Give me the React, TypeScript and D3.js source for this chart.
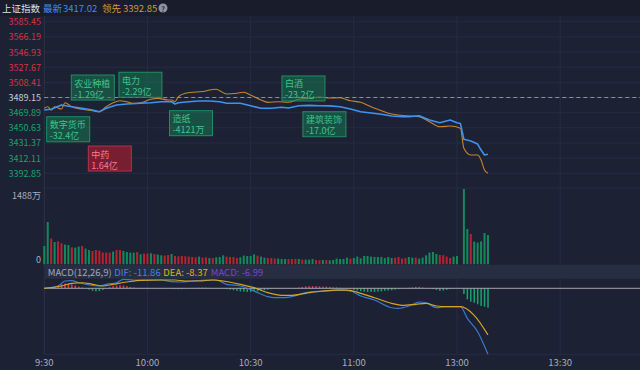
import * as d3 from 'd3';
import React from 'react';

// minute index: 0 = 9:30, 120 = 11:30 / 13:00
const timeTicks = [0, 30, 60, 90, 120, 150];
const timeLabels = ['9:30', '10:00', '10:30', '11:00', '13:00', '13:30'];

const priceTicks = [3585.45, 3566.19, 3546.93, 3527.67, 3508.41, 3489.15, 3469.89, 3450.63, 3431.37, 3412.11, 3392.85];
const prevClose = 3489.15;

// 最新 (latest index)
const latestIdx = [0, 2, 5, 8, 11, 14, 16, 18, 21, 24, 28, 31, 34, 37, 38, 39, 42, 45, 48, 51, 53, 57, 60, 63, 66, 69, 71, 74, 77, 80, 83, 86, 89, 92, 95, 98, 101, 104, 106, 109, 112, 115, 118, 120, 121, 122, 124, 126, 127, 128, 129];
const latestVal = [3473.3, 3474.2, 3479.6, 3477.4, 3475.4, 3473.3, 3471.1, 3475.4, 3479.6, 3480.9, 3481.8, 3482.5, 3483.8, 3483.8, 3480.9, 3482.5, 3483.8, 3484.7, 3484.7, 3483.8, 3481.8, 3481.8, 3478.7, 3475.4, 3475.4, 3476.7, 3475.8, 3478.7, 3479.2, 3478.7, 3478.5, 3477.4, 3474.5, 3471.1, 3469.5, 3467.8, 3465.6, 3464.8, 3464.8, 3466.0, 3460.5, 3457.1, 3460.5, 3457.1, 3456.0, 3436.0, 3433.9, 3430.0, 3422.4, 3416.1, 3417.02];

// 领先 (leading index)
const leadIdx = [0, 1, 2, 3, 5, 6, 8, 11, 14, 16, 18, 20, 22, 24, 26, 28, 31, 33, 36, 37, 38, 39, 41, 44, 47, 48, 50, 51, 53, 56, 58, 60, 63, 65, 68, 71, 74, 77, 80, 83, 86, 89, 92, 95, 98, 100, 103, 106, 109, 112, 115, 118, 121, 122, 124, 126, 127, 128, 129];
const leadVal = [3475.4, 3477.4, 3473.3, 3477.4, 3474.5, 3482.5, 3477.4, 3474.2, 3472.4, 3471.1, 3477.4, 3482.5, 3485.1, 3483.8, 3481.8, 3482.5, 3486.9, 3488.1, 3486.0, 3486.0, 3483.8, 3490.2, 3494.5, 3496.1, 3497.4, 3498.7, 3499.6, 3497.8, 3493.6, 3494.5, 3495.8, 3492.3, 3486.0, 3483.0, 3483.8, 3483.2, 3487.0, 3488.1, 3489.8, 3488.5, 3488.8, 3485.0, 3483.0, 3477.4, 3472.4, 3469.1, 3466.9, 3465.6, 3464.8, 3458.4, 3452.0, 3452.9, 3450.0, 3424.6, 3416.1, 3416.1, 3409.7, 3397.0, 3392.85];

// volume, 万 shares, one per minute; r = up minute, g = down minute
const volume = [
  362, 836, 508, 441, 454, 415, 389, 381, 336, 330,
  350, 362, 310, 283, 263, 283, 271, 231, 231, 231,
  251, 283, 283, 263, 243, 231, 231, 243, 198, 211,
  211, 217, 204, 192, 178, 172, 184, 204, 164, 158,
  164, 158, 152, 144, 138, 152, 132, 138, 124, 124,
  138, 144, 178, 152, 144, 144, 124, 138, 172, 164,
  164, 198, 172, 152, 132, 124, 124, 113, 113, 105,
  105, 105, 105, 105, 105, 93, 93, 93, 105, 85,
  79, 85, 85, 79, 85, 113, 105, 105, 132, 113,
  124, 152, 119, 164, 164, 152, 144, 144, 144, 124,
  144, 124, 132, 144, 113, 124, 144, 132, 132, 113,
  132, 178, 231, 243, 204, 184, 178, 152, 124, 152,
  164, 0, 1488, 698, 599, 449, 429, 454, 618, 579,
];
const volDir =
  'ggrgrrggrg' + 'grggrrrrrr' + 'grrggggrgr' + 'rgrggrrgrr' + 'rrrrrgrrgr' + 'gggrrrrggg' +
  'ggrggrrrgg' + 'grrrgrgggr' + 'rgrggggggr' + 'gggggggggg' + 'ggrrrrggrg' + 'gggggrrrrg' +
  'g' + '-' + 'ggrggggg';
const volMax = 1488;

// MACD(12,26,9)
const difIdx = [0, 4, 6, 8, 10, 13, 16, 18, 21, 23, 26, 30, 34, 37, 40, 43, 47, 50, 53, 57, 61, 65, 67, 70, 72, 76, 81, 86, 89, 92, 96, 101, 103, 106, 109, 111, 114, 117, 121, 123, 126, 129];
const difVal = [0, 0.41, 1.31, 1.37, 1.0, 0.59, 0.41, 0.72, 1.0, 1.62, 1.49, 1.49, 1.49, 1.19, 1.13, 1.31, 1.49, 1.49, 0.72, 0.41, -0.49, -1.51, -1.69, -1.69, -1.51, -0.79, -0.49, -0.31, -0.49, -1.38, -2.1, -3.49, -3.6, -3.18, -2.46, -2.59, -3.49, -3.31, -3.31, -5.4, -7.8, -11.86];
const deaIdx = [0, 5, 8, 11, 14, 17, 20, 24, 28, 34, 38, 41, 45, 49, 52, 57, 61, 65, 69, 72, 76, 81, 85, 88, 92, 96, 101, 104, 108, 111, 114, 117, 121, 125, 129];
const deaVal = [0, 0.41, 0.9, 1.0, 0.72, 0.41, 0.72, 1.13, 1.44, 1.49, 1.49, 1.31, 1.31, 1.49, 1.31, 0.72, 0.11, -0.79, -1.26, -1.26, -0.9, -0.49, -0.31, -0.31, -0.9, -1.69, -2.7, -3.06, -2.88, -2.7, -3.18, -3.31, -3.31, -4.86, -8.37];
const macdHist = [
  0, 0, 0.2, 0.6, 1.0, 1.4, 1.7, 1.6, 1.4, 1.0,
  0.6, 0.3, 0, -0.5, -0.9, -1.1, -1.0, -0.6, -0.2, 0.4,
  0.8, 1.0, 1.1, 1.0, 0.8, 0.5, 0.3, 0.1, 0.05, 0,
  0, 0, 0, 0, 0, 0, 0, -0.1, -0.2, -0.3,
  -0.3, -0.2, 0, 0.1, 0.15, 0.2, 0.25, 0.2, 0.15, 0.1,
  0, 0, -0.1, -0.3, -0.5, -0.7, -0.9, -1.1, -1.2, -1.3,
  -1.3, -1.2, -1.1, -0.9, -0.7, -0.5, -0.3, -0.2, -0.15, -0.1,
  -0.1, -0.05, 0.05, 0.15, 0.3, 0.5, 0.7, 0.8, 0.8, 0.8,
  0.7, 0.6, 0.6, 0.5, 0.4, 0.3, 0.2, -0.1, -0.2, -0.4,
  -0.6, -0.8, -1.0, -1.2, -1.3, -1.3, -1.3, -1.2, -1.1, -0.9,
  -0.8, -0.7, -0.5, -0.3, -0.1, 0.1, 0.2, 0.3, 0.5, 0.5,
  0.3, 0.1, -0.1, -0.3, -0.6, -0.9, -0.8, -0.6, -0.3, -0.1,
  -0.05, 0, -2.05, -3.96, -4.82, -5.18, -5.76, -6.37, -6.62, -6.99,
];

// sector fund-flow notes: name, amount, minute, price, inflow?
const notes: [string, string, number, number, boolean][] = [
  ['农业种植', '-1.29亿', 7.85, 3517.7, false],
  ['电力', '-2.29亿', 21.7, 3521.2, false],
  ['数字货币', '-32.4亿', 0.7, 3464.7, false],
  ['中药', '1.64亿', 12.8, 3427.5, true],
  ['造纸', '-4121万', 36.4, 3472.4, false],
  ['白酒', '-23.2亿', 69.1, 3516.5, false],
  ['建筑装饰', '-17.0亿', 75.2, 3471.1, false],
];

const FONT = '"Microsoft YaHei", "Noto Sans CJK SC", sans-serif';
const BG = '#1d2134';
const GRID = '#262c41';
const LEFT = 44.3;

export default function App() {
  const W = 640;
  const H = 370;

  const x = d3.scaleLinear().domain([0, 120]).range([LEFT, 457]);
  const yP = d3.scaleLinear().domain([3392.85, 3585.45]).range([173.3, 21.7]);
  const yV = d3.scaleLinear().domain([0, volMax]).range([264.3, 189]);
  const yM = d3.scaleLinear().domain([-11.86, 0]).range([354.3, 288.3]);
  const yH = d3.scaleLinear().domain([-23.72, 0]).range([354.3, 288.3]);

  const priceLine = d3.line<number>().x((_, i) => x(latestIdx[i])).y((d) => yP(d));
  const leadLine = d3.line<number>().x((_, i) => x(leadIdx[i])).y((d) => yP(d)).curve(d3.curveMonotoneX);
  const difLine = d3.line<number>().x((_, i) => x(difIdx[i])).y((d) => yM(d)).curve(d3.curveMonotoneX);
  const deaLine = d3.line<number>().x((_, i) => x(deaIdx[i])).y((d) => yM(d)).curve(d3.curveMonotoneX);

  const priceColor = (v: number) => (v > prevClose + 0.01 ? '#d8333f' : v < prevClose - 0.01 ? '#17a36b' : '#c9ccd4');

  return (
    <svg width={W} height={H} style={{ position: 'absolute', left: 0, top: 0, background: BG }} fontFamily={FONT}>
      <rect width={W} height={H} fill={BG} />
      <rect width={W} height={16} fill="#181c2b" />

      {/* header */}
      <g fontSize={9.5} dominantBaseline="central">
        <text x={2} y={8} fill="#dfe2e8">上证指数</text>
        <text x={43} y={8} fill="#3f8fe6">最新</text>
        <text x={63} y={8} fill="#3f8fe6">{latestVal[latestVal.length - 1].toFixed(2)}</text>
        <text x={102} y={8} fill="#d39b35">领先</text>
        <text x={123} y={8} fill="#d39b35">{leadVal[leadVal.length - 1].toFixed(2)}</text>
        <circle cx={163} cy={8} r={4.5} fill="#8d93a1" />
        <text x={163} y={8.5} fontSize={7} fontWeight="bold" fill="#1d2134" textAnchor="middle">?</text>
      </g>

      {/* grid */}
      {priceTicks.map((t) => (
        <line key={t} x1={LEFT} x2={W} y1={yP(t)} y2={yP(t)} stroke={GRID} strokeWidth={1} />
      ))}
      <line x1={LEFT} x2={W} y1={188} y2={188} stroke={GRID} />
      <line x1={LEFT} x2={W} y1={354.3} y2={354.3} stroke={GRID} />
      {timeTicks.slice(1).map((t) => (
        <line key={t} x1={x(t)} x2={x(t)} y1={16} y2={354.3} stroke={GRID} />
      ))}
      <line x1={LEFT} x2={LEFT} y1={16} y2={354.3} stroke="#2c3348" />

      {/* price axis */}
      <g fontSize={9} textAnchor="end" dominantBaseline="central">
        {priceTicks.map((t) => (
          <text key={t} x={41} y={yP(t)} fill={priceColor(t)}>{t.toFixed(2)}</text>
        ))}
      </g>
      <line x1={LEFT} x2={W} y1={yP(prevClose)} y2={yP(prevClose)} stroke="#8c919e" strokeDasharray="4,3" strokeWidth={1.2} />

      {/* price lines */}
      <path d={leadLine(leadVal) ?? ''} fill="none" stroke="#c4862c" strokeWidth={1.1} />
      <path d={priceLine(latestVal) ?? ''} fill="none" stroke="#3d92f2" strokeWidth={1.6} strokeLinejoin="round" />

      {/* notes */}
      {notes.map(([name, amt, t, p, up]) => (
        <g key={name} transform={`translate(${x(t)},${yP(p)})`} fontSize={9}>
          <rect width={43} height={25} fill={up ? 'rgba(150,30,50,0.75)' : 'rgba(22,120,82,0.55)'} stroke={up ? '#b23449' : '#1f8f63'} strokeWidth={1} />
          <text x={3} y={8} dominantBaseline="central" fill={up ? '#ff7a88' : '#3cc58a'}>{name}</text>
          <text x={3} y={19} dominantBaseline="central" fill={up ? '#ff7a88' : '#3cc58a'}>{amt}</text>
        </g>
      ))}

      {/* volume */}
      <g fontSize={9} fill="#a9aeba" textAnchor="end">
        <text x={41} y={195} dominantBaseline="central">{volMax}万</text>
        <text x={41} y={259} dominantBaseline="central">0</text>
      </g>
      {volume.map((v, i) =>
        v > 0 ? (
          <rect key={i} x={x(i) - 1} y={yV(v)} width={2} height={yV(0) - yV(v)} fill={volDir[i] === 'r' ? '#b7242f' : '#138a5c'} />
        ) : null
      )}

      {/* MACD band */}
      <rect x={LEFT} y={264.8} width={W - LEFT} height={14} fill="#272d42" />
      <g fontSize={9.5} dominantBaseline="central">
        <text x={47.7} y={272} fill="#a3a8b5">MACD(12,26,9)</text>
        <text x={114.3} y={272} fill="#3f86df">DIF: {difVal[difVal.length - 1].toFixed(2)}</text>
        <text x={163.3} y={272} fill="#e0b020">DEA: {deaVal[deaVal.length - 1].toFixed(2)}</text>
        <text x={210.7} y={272} fill="#7a47c8">MACD: {macdHist[macdHist.length - 1].toFixed(2)}</text>
      </g>

      {/* MACD */}
      {macdHist.map((v, i) =>
        v !== 0 ? (
          <rect key={i} x={x(i) - 0.7} y={Math.min(yH(v), yH(0))} width={1.5} height={Math.abs(yH(v) - yH(0))} fill={v > 0 ? '#e23b3f' : '#14a56c'} />
        ) : null
      )}
      <line x1={LEFT} x2={W} y1={yM(0)} y2={yM(0)} stroke="#a2a6ae" strokeWidth={1} />
      <path d={difLine(difVal) ?? ''} fill="none" stroke="#3c78cf" strokeWidth={1.2} />
      <path d={deaLine(deaVal) ?? ''} fill="none" stroke="#d2a526" strokeWidth={1.2} />

      {/* time axis */}
      <g fontSize={9.5} fill="#a9aeba" textAnchor="middle" dominantBaseline="central">
        {timeTicks.map((t, i) => (
          <text key={t} x={x(t)} y={361.5}>{timeLabels[i]}</text>
        ))}
      </g>
    </svg>
  );
}
